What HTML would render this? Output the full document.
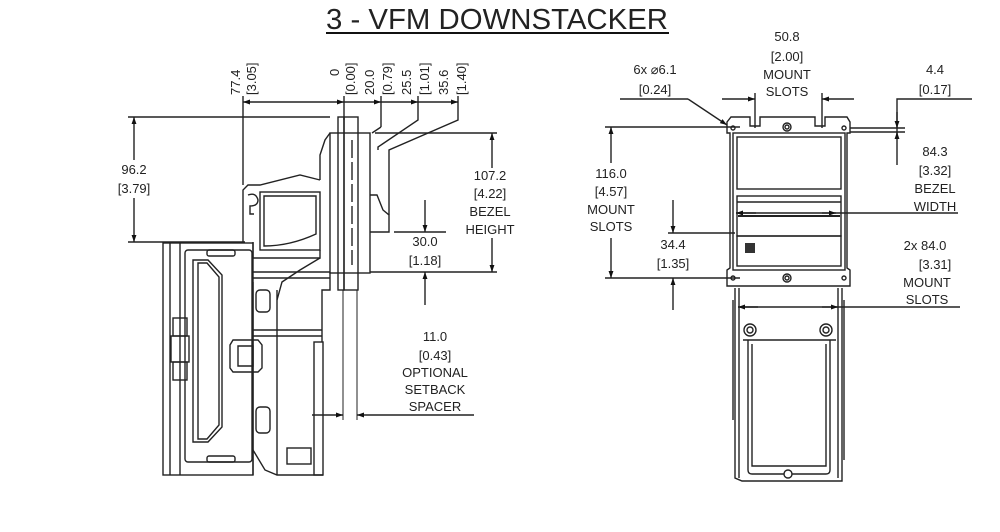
<!DOCTYPE html>
<html><head><meta charset="utf-8"><style>
html,body{margin:0;padding:0;background:#fff;width:1000px;height:532px;overflow:hidden}
svg{display:block}
text{font-family:"Liberation Sans",sans-serif;fill:#222}
</style></head><body>
<svg width="1000" height="532" viewBox="0 0 1000 532" xmlns="http://www.w3.org/2000/svg">
<defs>
<marker id="a" viewBox="0 0 10 10" refX="10" refY="5" markerWidth="9" markerHeight="7" orient="auto-start-reverse" markerUnits="userSpaceOnUse"><path d="M0,1.5 L10,5 L0,8.5z" fill="#111"/></marker>
</defs>
<text x="326" y="29" font-size="29" textLength="342" lengthAdjust="spacingAndGlyphs">3 - VFM DOWNSTACKER</text>
<line x1="326" y1="33" x2="669" y2="33" stroke="#111" stroke-width="2"/>

<g stroke="#222" stroke-width="1.4" fill="none">
<line x1="243" y1="102" x2="344" y2="102" marker-start="url(#a)" marker-end="url(#a)"/>
<line x1="344" y1="102" x2="381" y2="102" marker-end="url(#a)"/>
<line x1="381" y1="102" x2="418" y2="102" marker-end="url(#a)"/>
<line x1="418" y1="102" x2="458" y2="102" marker-end="url(#a)"/>
<line x1="243" y1="96" x2="243" y2="185"/>
<line x1="344" y1="96" x2="344" y2="120"/>
<line x1="381" y1="96" x2="381" y2="127" /><polyline points="381,127 372,133"/>
<polyline points="418,96 418,120 378,147 378,150"/>
<polyline points="458,96 458,120 389,150 389,215"/>
<line x1="128" y1="117" x2="330" y2="117"/>
<line x1="128" y1="242" x2="245" y2="242"/>
<line x1="134" y1="160" x2="134" y2="117" marker-end="url(#a)"/>
<line x1="134" y1="198" x2="134" y2="242" marker-end="url(#a)"/>
<line x1="375" y1="133" x2="497" y2="133"/>
<line x1="370" y1="272" x2="497" y2="272"/>
<line x1="492" y1="168" x2="492" y2="133" marker-end="url(#a)"/>
<line x1="492" y1="238" x2="492" y2="272" marker-end="url(#a)"/>
<line x1="394" y1="232" x2="446" y2="232"/>
<line x1="425" y1="200" x2="425" y2="232" marker-end="url(#a)"/>
<line x1="425" y1="305" x2="425" y2="272" marker-end="url(#a)"/>
<line x1="343" y1="290" x2="343" y2="420" stroke-width="1"/>
<line x1="357" y1="290" x2="357" y2="420" stroke-width="1"/>
<line x1="312" y1="415" x2="343" y2="415" marker-end="url(#a)"/>
<line x1="474" y1="415" x2="357" y2="415" marker-end="url(#a)"/>

<rect x="338" y="117" width="6" height="173"/>
<rect x="344" y="117" width="14" height="173"/>
<rect x="330" y="133" width="40" height="140"/>
<line x1="352" y1="140" x2="352" y2="265" stroke-dasharray="18,4"/>
<polyline points="370,195 377,195 383,210 389,215 389,232 370,232"/>
<polyline points="330,133 325,140 320,155 320,180"/>
<polyline points="320,180 300,175 260,185 248,185 243,190 243,242"/>
<rect x="260" y="192" width="60" height="58"/>
<path d="M264 196 L316 196 L316 234 Q290 246 264 246 Z"/>
<path d="M248 195 q8 -3 10 5 q0 6 -8 6 v8 h4"/>
<polyline points="253,242 253,258 320,258 320,250"/>
<polyline points="320,258 300,270 282,282 277,300"/>
<line x1="253" y1="272" x2="330" y2="272"/>
<line x1="253" y1="278" x2="330" y2="278"/>
<polyline points="330,272 330,290 322,290 322,342"/>
<rect x="163" y="243" width="90" height="232"/>
<line x1="170" y1="243" x2="170" y2="475"/>
<line x1="180" y1="243" x2="180" y2="475"/>
<rect x="185" y="250" width="67" height="212" rx="3"/>
<path d="M193 260 L208 260 L222 275 L222 427 L208 442 L193 442 Z"/>
<path d="M198 263 L207 263 L219 277 L219 425 L207 439 L198 439 Z"/>
<rect x="207" y="250" width="28" height="6" rx="2"/>
<rect x="207" y="456" width="28" height="6" rx="2"/>
<rect x="173" y="318" width="14" height="18"/>
<rect x="171" y="336" width="18" height="26"/>
<rect x="173" y="362" width="14" height="18"/>
<path d="M233 340 L258 340 L262 345 L262 368 L258 372 L233 372 L230 368 L230 345 Z"/>
<path d="M238 346 L253 346 L253 366 L238 366 Z"/>
<line x1="253" y1="282" x2="253" y2="475"/>
<line x1="277" y1="290" x2="277" y2="475"/>
<line x1="253" y1="330" x2="322" y2="330"/>
<line x1="253" y1="336" x2="322" y2="336"/>
<rect x="256" y="290" width="14" height="22" rx="4"/>
<rect x="256" y="407" width="14" height="26" rx="4"/>
<rect x="314" y="342" width="9" height="133"/>
<polyline points="253,450 265,470 277,475 323,475"/>
<rect x="287" y="448" width="24" height="16"/>

<line x1="620" y1="99" x2="688" y2="99"/>
<line x1="688" y1="99" x2="727" y2="125" marker-end="url(#a)"/>
<line x1="722" y1="99" x2="755" y2="99" marker-end="url(#a)"/>
<line x1="854" y1="99" x2="822" y2="99" marker-end="url(#a)"/>
<line x1="755" y1="93" x2="755" y2="128"/>
<line x1="822" y1="93" x2="822" y2="128"/>
<polyline points="972,99 897,99 897,138"/>
<line x1="897" y1="112" x2="897" y2="128" marker-end="url(#a)"/>
<line x1="897" y1="165" x2="897" y2="132" marker-end="url(#a)"/>
<line x1="850" y1="128" x2="905" y2="128"/>
<line x1="850" y1="132" x2="905" y2="132"/>
<line x1="605" y1="127" x2="740" y2="127"/>
<line x1="605" y1="278" x2="740" y2="278"/>
<line x1="611" y1="163" x2="611" y2="127" marker-end="url(#a)"/>
<line x1="611" y1="238" x2="611" y2="278" marker-end="url(#a)"/>
<line x1="668" y1="233" x2="735" y2="233"/>
<line x1="673" y1="200" x2="673" y2="233" marker-end="url(#a)"/>
<line x1="673" y1="310" x2="673" y2="278" marker-end="url(#a)"/>
<line x1="736" y1="213" x2="958" y2="213"/>
<line x1="756" y1="213" x2="736" y2="213" marker-end="url(#a)"/>
<line x1="822" y1="213" x2="836" y2="213" marker-end="url(#a)"/>
<line x1="738" y1="307" x2="960" y2="307"/>
<line x1="758" y1="307" x2="738" y2="307" marker-end="url(#a)"/>
<line x1="822" y1="307" x2="838" y2="307" marker-end="url(#a)"/>
<path d="M727 122 L731 117 L750 117 L750 126 L760 126 L760 117 L815 117 L815 126 L825 126 L825 117 L847 117 L850 122 L850 133 L847 133 L847 268 L850 270 L850 286 L727 286 L727 270 L730 268 L730 133 L727 133 Z"/>
<rect x="733" y="133" width="112" height="137"/>
<rect x="737" y="137" width="104" height="52"/>
<rect x="737" y="196" width="104" height="40"/>
<line x1="737" y1="202" x2="841" y2="202"/>
<line x1="738" y1="216" x2="840" y2="216" stroke-width="2"/>
<rect x="737" y="236" width="104" height="30"/>
<circle cx="787" cy="127" r="4"/><circle cx="787" cy="127" r="2"/>
<circle cx="787" cy="278" r="4"/><circle cx="787" cy="278" r="2"/>
<circle cx="733" cy="128" r="2"/><circle cx="844" cy="128" r="2"/>
<circle cx="733" cy="278" r="2"/><circle cx="844" cy="278" r="2"/>
<path d="M735 288 L735 478 L742 481 L842 481 L842 288"/>
<line x1="739" y1="288" x2="739" y2="478"/>
<line x1="838" y1="288" x2="838" y2="478"/>
<line x1="743" y1="340" x2="836" y2="340"/>
<path d="M748 340 L748 470 Q748 474 752 474 L826 474 Q830 474 830 470 L830 340"/>
<path d="M752 344 L752 466 L826 466 L826 344"/>
<circle cx="750" cy="330" r="6"/><circle cx="750" cy="330" r="3"/>
<circle cx="826" cy="330" r="6"/><circle cx="826" cy="330" r="3"/>
<circle cx="788" cy="474" r="4" fill="#fff"/>
<line x1="733" y1="300" x2="733" y2="420"/>
<line x1="844" y1="300" x2="844" y2="460"/>
</g>
<rect x="745" y="243" width="10" height="10" fill="#333"/>

<g font-size="13">
<text transform="translate(240,95) rotate(-90)">77.4</text>
<text transform="translate(256,95) rotate(-90)">[3.05]</text>
<text transform="translate(339,76) rotate(-90)">0</text>
<text transform="translate(355,95) rotate(-90)">[0.00]</text>
<text transform="translate(374,95) rotate(-90)">20.0</text>
<text transform="translate(392,95) rotate(-90)">[0.79]</text>
<text transform="translate(411,95) rotate(-90)">25.5</text>
<text transform="translate(429,95) rotate(-90)">[1.01]</text>
<text transform="translate(448,95) rotate(-90)">35.6</text>
<text transform="translate(466,95) rotate(-90)">[1.40]</text>
</g>
<g font-size="13" text-anchor="middle">
<text x="134" y="174">96.2</text><text x="134" y="193">[3.79]</text>
<text x="490" y="180">107.2</text><text x="490" y="198">[4.22]</text>
<text x="490" y="216">BEZEL</text><text x="490" y="234">HEIGHT</text>
<text x="425" y="246">30.0</text><text x="425" y="265">[1.18]</text>
<text x="435" y="341">11.0</text><text x="435" y="360">[0.43]</text>
<text x="435" y="377">OPTIONAL</text><text x="435" y="394">SETBACK</text><text x="435" y="411">SPACER</text>
<text x="787" y="41">50.8</text><text x="787" y="61">[2.00]</text>
<text x="787" y="79">MOUNT</text><text x="787" y="96">SLOTS</text>
<text x="655" y="74">6x ⌀6.1</text><text x="655" y="94">[0.24]</text>
<text x="935" y="74">4.4</text><text x="935" y="94">[0.17]</text>
<text x="935" y="156">84.3</text><text x="935" y="175">[3.32]</text>
<text x="935" y="193">BEZEL</text><text x="935" y="211">WIDTH</text>
<text x="611" y="178">116.0</text><text x="611" y="196">[4.57]</text>
<text x="611" y="214">MOUNT</text><text x="611" y="231">SLOTS</text>
<text x="673" y="249">34.4</text><text x="673" y="268">[1.35]</text>
<text x="925" y="250">2x  84.0</text><text x="935" y="269">[3.31]</text>
<text x="927" y="287">MOUNT</text><text x="927" y="304">SLOTS</text>
</g>
</svg>
</body></html>
